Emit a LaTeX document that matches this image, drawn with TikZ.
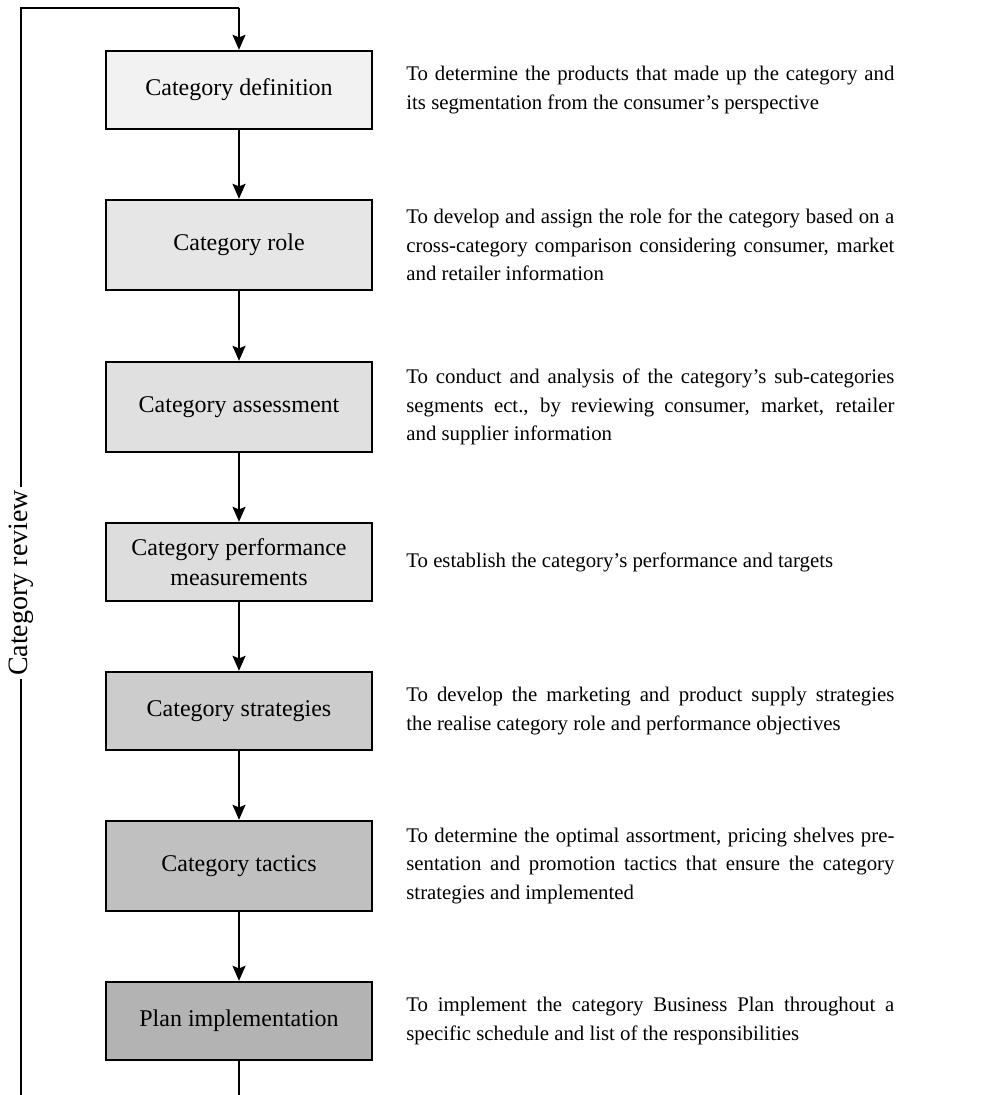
\documentclass[tikz,border=0pt]{standalone}
\usepackage{fontspec}
\setmainfont{Liberation Serif}
\usetikzlibrary{arrows.meta}

\definecolor{shadeA}{HTML}{F2F2F2}
\definecolor{shadeB}{HTML}{E6E6E6}
\definecolor{shadeC}{HTML}{E0E0E0}
\definecolor{shadeD}{HTML}{DDDDDD}
\definecolor{shadeE}{HTML}{CCCCCC}
\definecolor{shadeF}{HTML}{C0C0C0}
\definecolor{shadeG}{HTML}{B3B3B3}

\begin{document}
\begin{tikzpicture}[x=0.5pt, y=-0.5pt,
  stage/.style={draw=black, line width=1.2pt, minimum width=133pt,
    minimum height=#1, inner sep=0pt, align=center,
    font=\fontsize{12}{15}\selectfont},
  desc/.style={anchor=west, inner sep=0pt, text width=244pt, align=justify,
    font=\fontsize{10.4}{14.2}\selectfont},
  flow/.style={line width=0.9pt, -{Stealth[length=7.5pt, width=6.5pt, inset=1.3pt]}},
  plain/.style={line width=0.75pt},
  looplabel/.style={fill=white, rotate=90, inner sep=1.5pt,
    font=\fontsize{14}{14}\selectfont}
]
\useasboundingbox (0,0) rectangle (983,1095);

% stages of the category management process
\node[stage=39pt, fill=shadeA] (b1) at (239,90)   {Category definition};
\node[stage=45pt, fill=shadeB] (b2) at (239,245)  {Category role};
\node[stage=45pt, fill=shadeC] (b3) at (239,407)  {Category assessment};
\node[stage=39pt, fill=shadeD] (b4) at (239,562)  {Category performance\\measurements};
\node[stage=39pt, fill=shadeE] (b5) at (239,711)  {Category strategies};
\node[stage=45pt, fill=shadeF] (b6) at (239,866)  {Category tactics};
\node[stage=39pt, fill=shadeG] (b7) at (239,1021) {Plan implementation};

% explanations beside each stage
\node[desc] (d1) at (406,90) {To determine the products that made up the category and\linebreak its segmentation from the consumer’s perspective};
\node[desc] (d2) at (406,245) {To develop and assign the role for the category based on a\linebreak cross-category comparison considering consumer, market\linebreak and retailer information};
\node[desc] (d3) at (406,407) {To conduct and analysis of the category’s sub-categories\linebreak segments ect., by reviewing consumer, market, retailer\linebreak and supplier information};
\node[desc] (d4) at (406,562) {To establish the category’s performance and targets};
\node[desc] (d5) at (406,711) {To develop the marketing and product supply strategies\linebreak the realise category role and performance objectives};
\node[desc] (d6) at (406,866) {To determine the optimal assortment, pricing shelves pre-\linebreak sentation and promotion tactics that ensure the category\linebreak strategies and implemented};
\node[desc] (d7) at (406,1021) {To implement the category Business Plan throughout a\linebreak specific schedule and list of the responsibilities};

% sequence arrows
\draw[flow] (b1.south) -- (b2.north);
\draw[flow] (b2.south) -- (b3.north);
\draw[flow] (b3.south) -- (b4.north);
\draw[flow] (b4.south) -- (b5.north);
\draw[flow] (b5.south) -- (b6.north);
\draw[flow] (b6.south) -- (b7.north);

% review loop back to the first stage
\coordinate (loopBottom) at (21,1095);
\coordinate (loopTop) at (21,8);
\coordinate (entry) at (239,8);
\coordinate (exit) at (239,1095);
\draw[plain] (loopBottom) -- (loopTop) -- (entry);
\draw[flow] (entry) -- (b1.north);
\draw[plain] (b7.south) -- (exit);
\node[looplabel] (rev) at (21,583) {Category review};
\end{tikzpicture}
\end{document}
